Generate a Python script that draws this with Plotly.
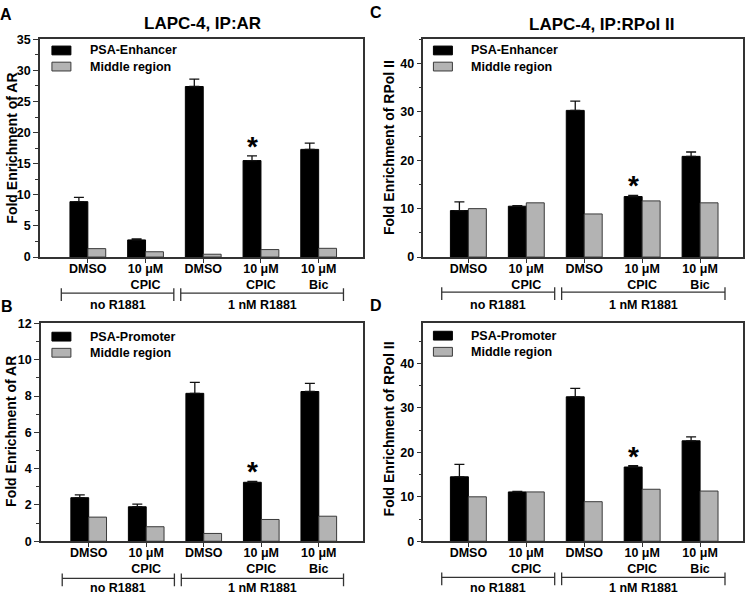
import plotly.graph_objects as go

# ---------------- data ----------------
categories = ["DMSO", "10 μM<br>CPIC", "DMSO", "10 μM<br>CPIC", "10 μM<br>Bic"]
group_labels = ["no R1881", "1 nM R1881"]

# Panel A: LAPC-4, IP:AR, PSA-Enhancer
a_target = [8.9, 2.75, 27.4, 15.5, 17.3]
a_target_err = [0.7, 0.15, 1.2, 0.75, 1.0]
a_middle = [1.35, 0.85, 0.45, 1.2, 1.4]

# Panel B: LAPC-4, IP:AR, PSA-Promoter
b_target = [2.4, 1.9, 8.15, 3.25, 8.25]
b_target_err = [0.15, 0.15, 0.6, 0.05, 0.45]
b_middle = [1.33, 0.8, 0.43, 1.2, 1.38]

# Panel C: LAPC-4, IP:RPol II, PSA-Enhancer
c_target = [9.6, 10.5, 30.3, 12.5, 20.8]
c_target_err = [1.8, 0.1, 1.9, 0.25, 0.9]
c_middle = [10.0, 11.2, 8.9, 11.6, 11.2]

# Panel D: LAPC-4, IP:RPol II, PSA-Promoter
d_target = [14.5, 11.1, 32.5, 16.7, 22.6]
d_target_err = [2.8, 0.1, 1.9, 0.3, 0.9]
d_middle = [10.0, 11.1, 8.9, 11.7, 11.3]

star_index = 3  # significant: 10 μM CPIC with 1 nM R1881

# ---------------- styling ----------------
W, H = 745, 601
FONT = "Arial, Liberation Sans, sans-serif"
AXC = "#333333"
GRAY = "#b3b3b3"


def fx(px):
    return px / W


def fy(py):
    return 1 - py / H


panels = [
    dict(n="", letter="A", lpos=(6, 8), dom=(40, 363, 33, 256), xr=[-0.83, 4.76],
         yr=[0, 35], dt=5, mdt=2.5, tgt=a_target, err=a_target_err, mid=a_middle,
         tname="PSA-Enhancer", title="LAPC-4, IP:AR", tpos=(203, 17),
         ytitle="Fold Enrichment of AR", ytpos=(12, 144), leg=(52, 40), br=(293, 305)),
    dict(n="2", letter="B", lpos=(7, 307), dom=(41, 363, 324, 547), xr=[-0.83, 4.76],
         yr=[0, 12], dt=2, mdt=1, tgt=b_target, err=b_target_err, mid=b_middle,
         tname="PSA-Promoter", title=None, tpos=None,
         ytitle="Fold Enrichment of AR", ytpos=(11, 434), leg=(52, 333), br=(585, 595)),
    dict(n="3", letter="C", lpos=(377, 6), dom=(424, 744, 33, 256), xr=[-0.776, 4.741],
         yr=[0, 45], dt=10, mdt=5, tgt=c_target, err=c_target_err, mid=c_middle,
         tname="PSA-Enhancer", title="LAPC-4, IP:RPol II", tpos=(602, 18),
         ytitle="Fold Enrichment of RPol II", ytpos=(389, 144), leg=(434, 40), br=(292, 305)),
    dict(n="4", letter="D", lpos=(377, 306), dom=(424, 744, 324, 547), xr=[-0.776, 4.741],
         yr=[0, 49], dt=10, mdt=5, tgt=d_target, err=d_target_err, mid=d_middle,
         tname="PSA-Promoter", title=None, tpos=None,
         ytitle="Fold Enrichment of RPol II", ytpos=(389, 432), leg=(434, 332), br=(584, 595)),
]

fig = go.Figure()
shapes = []
annotations = []
xpos = list(range(len(categories)))

for p in panels:
    xa = "x" + p["n"]
    ya = "y" + p["n"]
    fig.add_trace(go.Bar(
        x=xpos, y=p["tgt"], name=p["tname"], xaxis=xa, yaxis=ya,
        marker=dict(color="#000000", line=dict(color="#000000", width=1)),
        error_y=dict(type="data", symmetric=False, array=p["err"],
                     arrayminus=[0] * len(p["err"]), color="#111111",
                     thickness=1.3, width=5),
        showlegend=False, offsetgroup="t", hoverinfo="skip",
    ))
    fig.add_trace(go.Bar(
        x=xpos, y=p["mid"], name="Middle region", xaxis=xa, yaxis=ya,
        marker=dict(color=GRAY, line=dict(color="#3a3a3a", width=1)),
        showlegend=False, offsetgroup="m", hoverinfo="skip",
    ))
    l, r, t, b = p["dom"]
    lay_x = "xaxis" + p["n"]
    lay_y = "yaxis" + p["n"]
    fig.layout[lay_x] = dict(
        domain=[fx(l), fx(r)], anchor=ya, range=p["xr"],
        tickvals=xpos, ticktext=categories, ticks="outside", ticklen=4,
        tickcolor=AXC, tickwidth=1.2, ticklabelstandoff=-5,
        showline=True, linecolor=AXC, linewidth=1.5, mirror=True,
        showgrid=False, zeroline=False,
        tickfont=dict(family=FONT, size=12.5, color="#000", weight="bold"),
    )
    fig.layout[lay_y] = dict(
        domain=[fy(b), fy(t)], anchor=xa, range=p["yr"], dtick=p["dt"],
        ticks="outside", ticklen=5, tickcolor=AXC, tickwidth=1.2,
        minor=dict(dtick=p["mdt"], ticks="outside", ticklen=3, tickcolor=AXC, tickwidth=1),
        showline=True, linecolor=AXC, linewidth=1.5, mirror=True,
        showgrid=False, zeroline=False,
        tickfont=dict(family=FONT, size=12.5, color="#000", weight="bold"),
    )

    # significance star
    annotations.append(dict(
        x=star_index - 0.155, y=p["tgt"][star_index] + p["err"][star_index],
        xref=xa, yref=ya, text="*", showarrow=False, yanchor="bottom",
        yshift=-8, font=dict(family=FONT, size=28, color="#000", weight="bold"),
    ))

    # panel letter
    annotations.append(dict(
        x=fx(p["lpos"][0]), y=fy(p["lpos"][1]), xref="paper", yref="paper",
        text=p["letter"], showarrow=False, xanchor="center", yanchor="middle",
        font=dict(family=FONT, size=16, color="#000", weight="bold"),
    ))
    if p["title"]:
        annotations.append(dict(
            x=fx(p["tpos"][0]), y=fy(p["tpos"][1]), xref="paper", yref="paper",
            text=p["title"], showarrow=False, xanchor="center", yanchor="middle",
            font=dict(family=FONT, size=17, color="#000", weight="bold"),
        ))
    annotations.append(dict(
        x=fx(p["ytpos"][0]), y=fy(p["ytpos"][1]), xref="paper", yref="paper",
        text=p["ytitle"], showarrow=False, textangle=-90,
        xanchor="center", yanchor="middle",
        font=dict(family=FONT, size=14, color="#000", weight="bold"),
    ))

    # legend (manual swatches)
    lx, ly = p["leg"]
    for i, (name, col, lc) in enumerate([(p["tname"], "#000000", "#000000"),
                                         ("Middle region", GRAY, "#3a3a3a")]):
        y0 = ly + i * 16.5
        shapes.append(dict(type="rect", xref="paper", yref="paper",
                           x0=fx(lx), x1=fx(lx + 19), y0=fy(y0 + 9), y1=fy(y0),
                           fillcolor=col, line=dict(color=lc, width=1)))
        annotations.append(dict(
            x=fx(lx + 36), y=fy(y0 + 4.5), xref="paper", yref="paper",
            text=name, showarrow=False, xanchor="left", yanchor="middle",
            font=dict(family=FONT, size=12.5, color="#000", weight="bold"),
        ))

    # group brackets
    by, ty = p["br"]
    for (x0, x1), lab in zip([(-0.46, 1.49), (1.61, 4.43)], group_labels):
        shapes.append(dict(type="line", xref=xa, yref="paper", x0=x0, x1=x1,
                           y0=fy(by), y1=fy(by), line=dict(color=AXC, width=1.3)))
        for xe in (x0, x1):
            shapes.append(dict(type="line", xref=xa, yref="paper", x0=xe, x1=xe,
                               y0=fy(by - 5), y1=fy(by + 8), line=dict(color=AXC, width=1.3)))
        annotations.append(dict(
            x=(x0 + x1) / 2, y=fy(ty), xref=xa, yref="paper", text=lab,
            showarrow=False, xanchor="center", yanchor="middle",
            font=dict(family=FONT, size=12.5, color="#000", weight="bold"),
        ))

fig.update_layout(
    width=W, height=H, margin=dict(l=0, r=0, t=0, b=0),
    paper_bgcolor="white", plot_bgcolor="white",
    barmode="group", bargap=0.38, bargroupgap=0,
    shapes=shapes, annotations=annotations, showlegend=False,
)

fig.write_html("out.html", config={"displayModeBar": False},
               post_script="document.body.style.margin='0';document.body.style.overflow='hidden';")
